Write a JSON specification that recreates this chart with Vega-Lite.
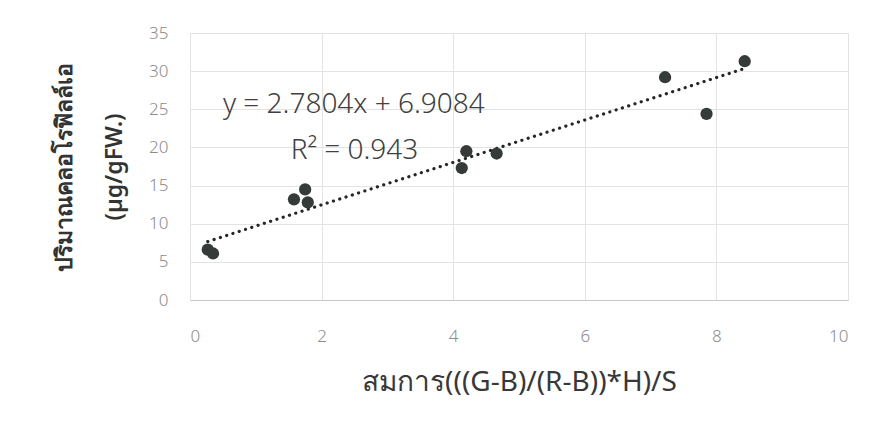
{
  "$schema": "https://vega.github.io/schema/vega-lite/v6.json",
  "autosize": "none",
  "width": 658,
  "height": 267,
  "padding": {"left": 190, "top": 33, "right": 35, "bottom": 140},
  "background": "white",
  "config": {
    "view": {"stroke": null},
    "font": "Noto Sans"
  },
  "datasets": {
    "points": [
      {"x": 0.27, "y": 6.6},
      {"x": 0.35, "y": 6.1},
      {"x": 1.58, "y": 13.2},
      {"x": 1.75, "y": 14.5},
      {"x": 1.79, "y": 12.8},
      {"x": 4.13, "y": 17.3},
      {"x": 4.2, "y": 19.5},
      {"x": 4.66, "y": 19.2},
      {"x": 7.22, "y": 29.2},
      {"x": 7.85, "y": 24.4},
      {"x": 8.43, "y": 31.3}
    ],
    "trend": [
      {"x": 0.27, "y": 7.66},
      {"x": 8.43, "y": 30.35}
    ],
    "labels": [
      {"x": 0.5, "y": 25.6, "t": "y = 2.7804x + 6.9084"},
      {"x": 1.53, "y": 19.5, "t": "R² = 0.943"}
    ]
  },
  "encoding": {
    "x": {
      "field": "x", "type": "quantitative",
      "scale": {"domain": [0, 10], "nice": false},
      "axis": {
        "values": [0, 2, 4, 6, 8, 10],
        "format": "d",
        "title": "สมการ(((G-B)/(R-B))*H)/S",
        "titleFontSize": 28, "titleFontWeight": "normal", "titleColor": "#383838",
        "titlePadding": 24,
        "labelFontSize": 17, "labelFontWeight": 300, "labelColor": "#8c8c8c", "labelPadding": 28,
        "ticks": false, "domainColor": "#c8c8c8", "domainWidth": 1.2,
        "gridColor": "#e3e3e3", "grid": true
      }
    },
    "y": {
      "field": "y", "type": "quantitative",
      "scale": {"domain": [0, 35], "nice": false},
      "axis": {
        "values": [0, 5, 10, 15, 20, 25, 30, 35],
        "format": "d",
        "title": ["ปริมาณคลอโรฟิลล์เอ", "(µg/gFW.)"],
        "titleFontSize": 23, "titleFontWeight": 600, "titleColor": "#333333",
        "titleLineHeight": 50, "titlePadding": 22,
        "labelFontSize": 17, "labelFontWeight": 300, "labelColor": "#8c8c8c", "labelPadding": 22,
        "ticks": false, "domain": false,
        "gridColor": "#e3e3e3", "grid": true
      }
    }
  },
  "layer": [
    {
      "data": {"name": "trend"},
      "mark": {"type": "line", "color": "#262626", "strokeWidth": 3.2, "strokeDash": [0.1, 6.5], "strokeCap": "round"}
    },
    {
      "data": {"name": "points"},
      "mark": {"type": "circle", "size": 150, "color": "#353b39", "opacity": 1}
    },
    {
      "data": {"name": "labels"},
      "mark": {"type": "text", "align": "left", "baseline": "middle", "fontSize": 28, "fontWeight": 300, "color": "#404040", "font": "Noto Sans"},
      "encoding": {
        "text": {"field": "t"}
      }
    }
  ]
}
